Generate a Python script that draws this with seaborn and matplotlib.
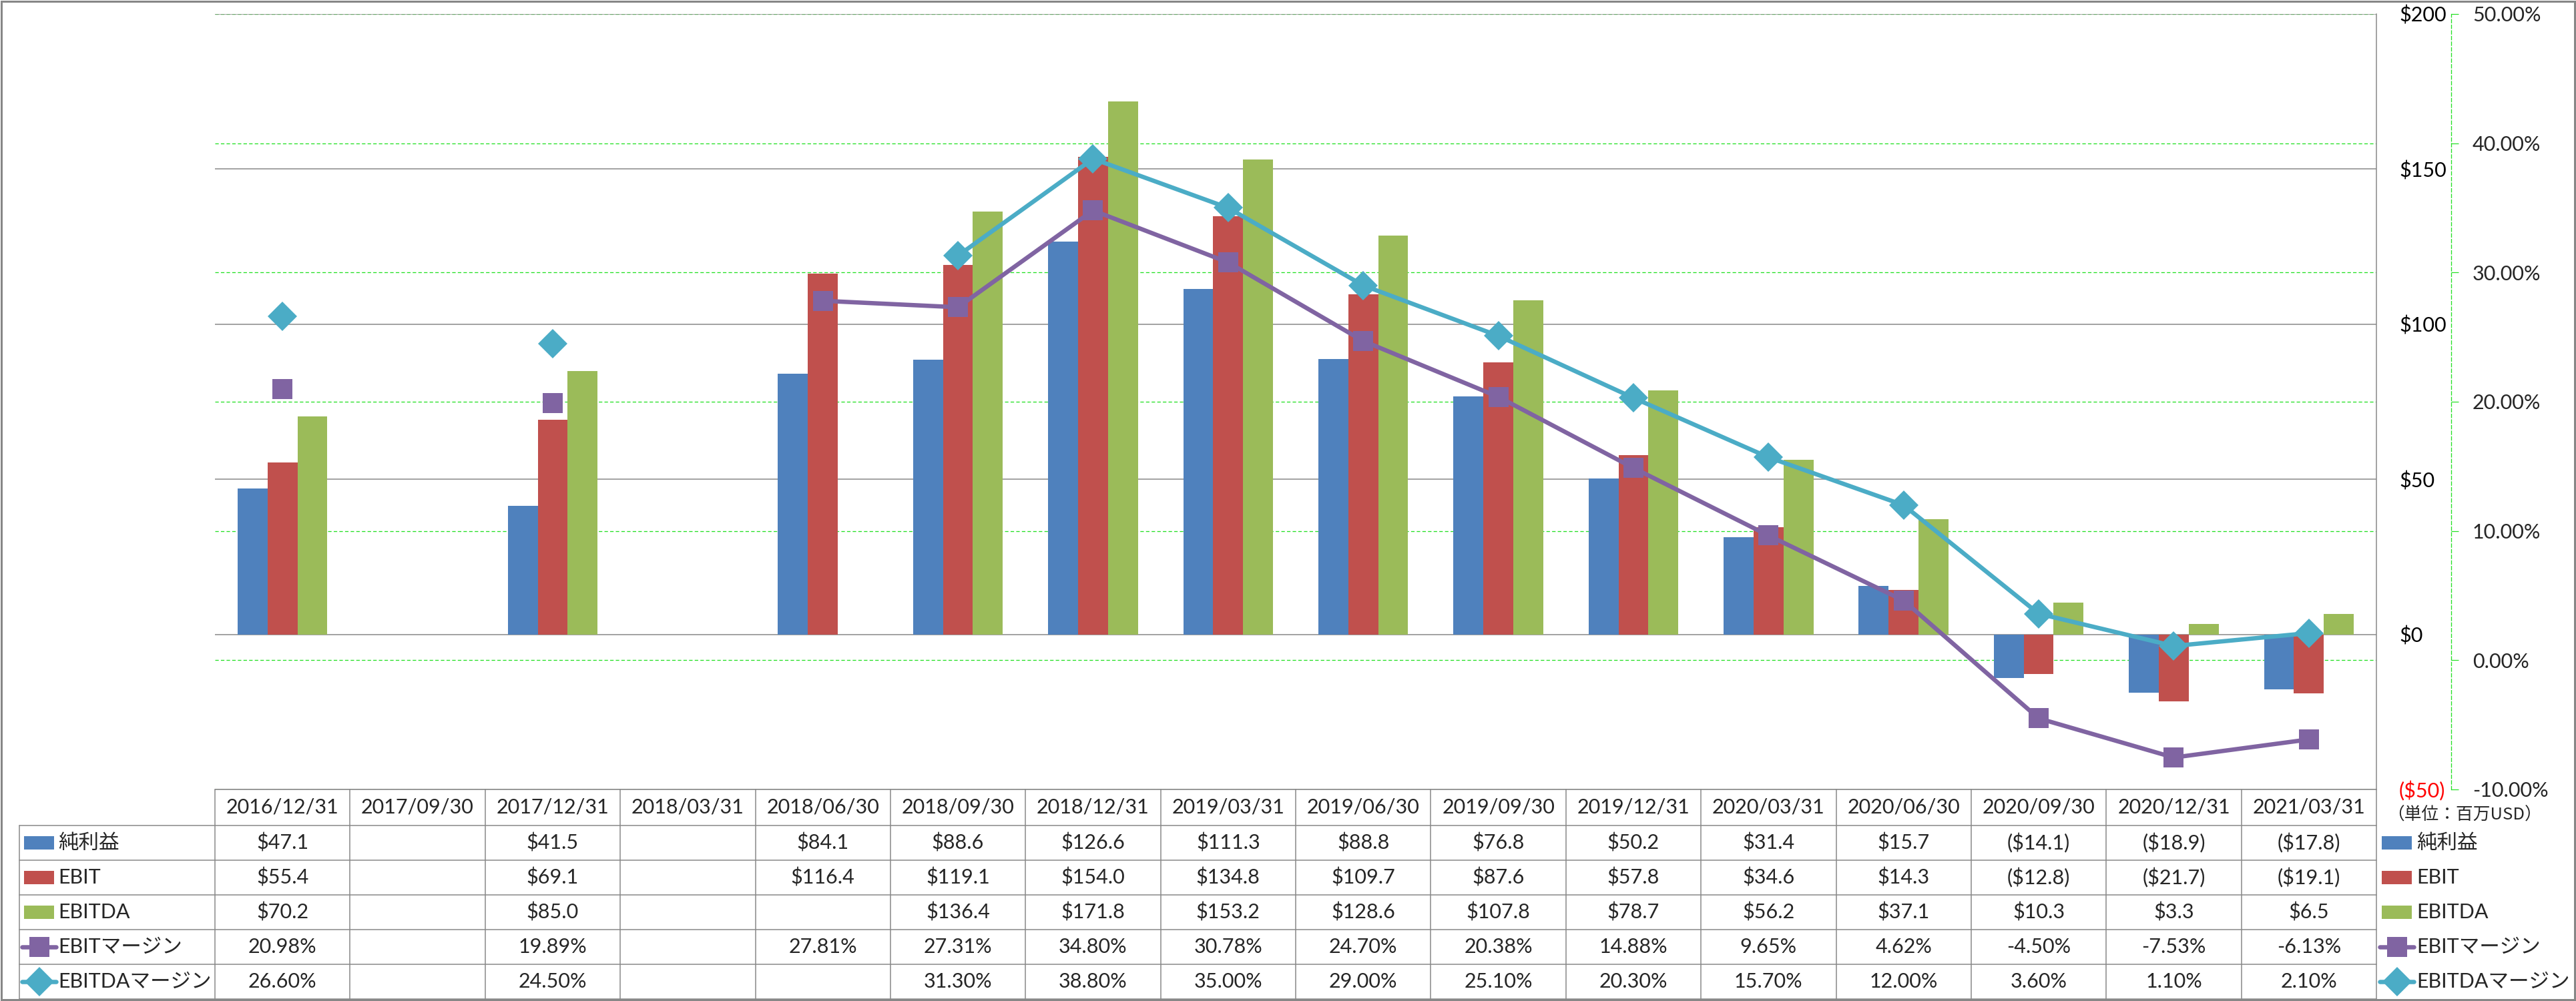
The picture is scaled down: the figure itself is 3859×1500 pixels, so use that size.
import numpy as np
import pandas as pd
import matplotlib
matplotlib.use('Agg')
import matplotlib.pyplot as plt
import matplotlib.transforms as mtrans
from matplotlib.patches import Rectangle
from matplotlib.lines import Line2D
import seaborn as sns

dates = ['2016/12/31', '2017/09/30', '2017/12/31', '2018/03/31', '2018/06/30',
         '2018/09/30', '2018/12/31', '2019/03/31', '2019/06/30', '2019/09/30',
         '2019/12/31', '2020/03/31', '2020/06/30', '2020/09/30', '2020/12/31',
         '2021/03/31']
nan = np.nan
net_income = [47.1, nan, 41.5, nan, 84.1, 88.6, 126.6, 111.3, 88.8, 76.8,
              50.2, 31.4, 15.7, -14.1, -18.9, -17.8]
ebit = [55.4, nan, 69.1, nan, 116.4, 119.1, 154.0, 134.8, 109.7, 87.6,
        57.8, 34.6, 14.3, -12.8, -21.7, -19.1]
ebitda = [70.2, nan, 85.0, nan, nan, 136.4, 171.8, 153.2, 128.6, 107.8,
          78.7, 56.2, 37.1, 10.3, 3.3, 6.5]
ebit_margin = [20.98, nan, 19.89, nan, 27.81, 27.31, 34.80, 30.78, 24.70, 20.38,
               14.88, 9.65, 4.62, -4.50, -7.53, -6.13]
ebitda_margin = [26.60, nan, 24.50, nan, nan, 31.30, 38.80, 35.00, 29.00, 25.10,
                 20.30, 15.70, 12.00, 3.60, 1.10, 2.10]

bar_names = ['純利益', 'EBIT', 'EBITDA']
line_names = ['EBITマージン', 'EBITDAマージン']
usd_ticks = [-50, 0, 50, 100, 150, 200]
pct_ticks = [-10, 0, 10, 20, 30, 40, 50]
unit_note = '（単位：百万USD）'

bar_colors = ['#4F81BD', '#C0504D', '#9BBB59']
line_colors = ['#8064A2', '#4BACC6']
line_markers = ['s', 'D']
GREEN = '#22E022'
GRAY = '#878787'

sns.set_style('white')
plt.rcParams['font.family'] = ['Lato', 'Noto Sans CJK JP', 'DejaVu Sans']
FS = 22
PT = 0.72  # points per pixel at dpi 100
LW = 6.5 * PT

W, H = 3859, 1500
fig = plt.figure(figsize=(W / 100, H / 100), dpi=100)
px = mtrans.Affine2D().scale(1 / W, -1 / H).translate(0, 1) + fig.transFigure

L, R, T, B = 322, 3560, 21, 1183
ax = fig.add_axes([L / W, 1 - B / H, (R - L) / W, (B - T) / H])
axg = ax.twinx()   # % axis + green grid, bottom layer
axl = ax.twinx()   # margin lines, top layer
axg.set_zorder(0)
ax.set_zorder(1)
axl.set_zorder(2)
ax.patch.set_visible(False)

# ---- bars ----
df = pd.DataFrame({
    'date': dates * 3,
    'series': np.repeat(bar_names, len(dates)),
    'value': net_income + ebit + ebitda,
}).dropna()
sns.barplot(data=df, x='date', y='value', hue='series', order=dates,
            hue_order=bar_names, palette=bar_colors, width=0.664, saturation=1,
            errorbar=None, linewidth=0, legend=False, ax=ax)
n = len(dates)
ax.set_xlim(-0.5, n - 0.5)
ax.set_ylim(-50, 200)
ax.set_xlabel('')
ax.set_ylabel('')
ax.yaxis.tick_right()
ax.set_yticks(usd_ticks, labels=[f'${v}' if v >= 0 else f'(${-v})' for v in usd_ticks])
for lbl, v in zip(ax.get_yticklabels(), usd_ticks):
    lbl.set_color('red' if v < 0 else 'black')
ax.tick_params(axis='y', length=0, pad=34 * PT, labelsize=FS)
ax.tick_params(axis='x', length=0, labelbottom=False)
ax.grid(axis='y', color=GRAY, lw=1.5 * PT)
ax.set_axisbelow(True)
for s in ['left', 'top', 'bottom']:
    ax.spines[s].set_visible(False)
ax.spines['right'].set_color(GRAY)
ax.spines['right'].set_linewidth(1.5 * PT)

# ---- secondary % axis ----
axg.set_ylim(-10, 50)
axg.set_yticks(pct_ticks, labels=[f'{v:.2f}%' for v in pct_ticks])
for lbl, v in zip(axg.get_yticklabels(), pct_ticks):
    lbl.set_color('red' if v < 0 else 'black')
axg.tick_params(axis='y', direction='out', length=11 * PT, width=1.2 * PT,
                color=GREEN, pad=21 * PT, labelsize=FS)
axg.grid(axis='y', color=GREEN, lw=1.3 * PT, linestyle=(0, (4, 2.5)))
for s in ['left', 'top', 'bottom']:
    axg.spines[s].set_visible(False)
axg.spines['right'].set_position(('outward', (3672 - R) * PT))
axg.spines['right'].set_color(GREEN)
axg.spines['right'].set_linewidth(1.3 * PT)
axg.spines['right'].set_linestyle((0, (4, 2.5)))

# ---- margin lines ----
axl.set_ylim(-10, 50)
x = np.arange(n)
for vals, c, m in zip([ebit_margin, ebitda_margin], line_colors, line_markers):
    ms = 30 * PT if m == 's' else 30.5 * PT
    axl.plot(x, vals, color=c, lw=LW, marker=m, ms=ms, mec=c, mew=0)
axl.set_yticks([])
for s in axl.spines.values():
    s.set_visible(False)

# ---- data table ----
blend = mtrans.blended_transform_factory(ax.transData, px)
row_edges = [1183, 1237, 1289, 1341, 1393, 1445, 1497]
LEG_L = 29
lk = dict(color=GRAY, lw=1.5 * PT)
for i, y in enumerate(row_edges):
    x0 = L if i == 0 else LEG_L
    fig.add_artist(Line2D([x0, R], [y, y], transform=px, **lk))
fig.add_artist(Line2D([LEG_L, LEG_L], [row_edges[1], row_edges[-1]], transform=px, **lk))
fig.add_artist(Line2D([L, L], [row_edges[0], row_edges[-1]], transform=px, **lk))
for i in range(n):
    fig.add_artist(Line2D([i + 0.5, i + 0.5], [row_edges[0], row_edges[-1]],
                          transform=blend, **lk))

def money(v):
    if np.isnan(v):
        return ''
    return f'${v:.1f}' if v >= 0 else f'(${-v:.1f})'

def pct(v):
    return '' if np.isnan(v) else f'{v:.2f}%'

centers = [(a + b) / 2 for a, b in zip(row_edges[:-1], row_edges[1:])]
for i, d in enumerate(dates):
    fig.text(i, centers[0], d, transform=blend, ha='center', va='center', fontsize=FS)
rows = [[money(v) for v in net_income], [money(v) for v in ebit],
        [money(v) for v in ebitda], [pct(v) for v in ebit_margin],
        [pct(v) for v in ebitda_margin]]
for r, vals in enumerate(rows):
    for i, s in enumerate(vals):
        fig.text(i, centers[r + 1], s, transform=blend, ha='center', va='center', fontsize=FS)

# ---- legend keys: in the table's row header and on the right ----
def draw_key(xl, cy, idx):
    if idx < 3:
        fig.add_artist(Rectangle((xl + 3, cy - 10), 45, 20, transform=px,
                                 color=bar_colors[idx], lw=0))
        return
    c = line_colors[idx - 3]
    fig.add_artist(Line2D([xl, xl + 51], [cy, cy], transform=px, color=c, lw=LW))
    fig.add_artist(Line2D([xl + 25.5], [cy], transform=px, color=c, marker=line_markers[idx - 3],
                          ms=30 * PT if idx == 3 else 30.5 * PT, mew=0))

labels = bar_names + line_names
for k, lab in enumerate(labels):
    cy = centers[k + 1]
    draw_key(LEG_L + 4, cy, k)
    fig.text(LEG_L + 58, cy, lab, transform=px, ha='left', va='center', fontsize=FS)
    draw_key(3565, cy, k)
    fig.text(3620, cy, lab, transform=px, ha='left', va='center', fontsize=FS)

fig.text(3692, 1222, unit_note, transform=px, ha='center', va='center',
         fontsize=18.5, family=['Noto Sans CJK JP', 'DejaVu Sans'])

# outer frame
fig.add_artist(Rectangle((1.5, 1.5), W - 4, H - 4, transform=px, fill=False,
                         ec=GRAY, lw=3 * PT))

fig.savefig('out.png', dpi=100, facecolor='white')
